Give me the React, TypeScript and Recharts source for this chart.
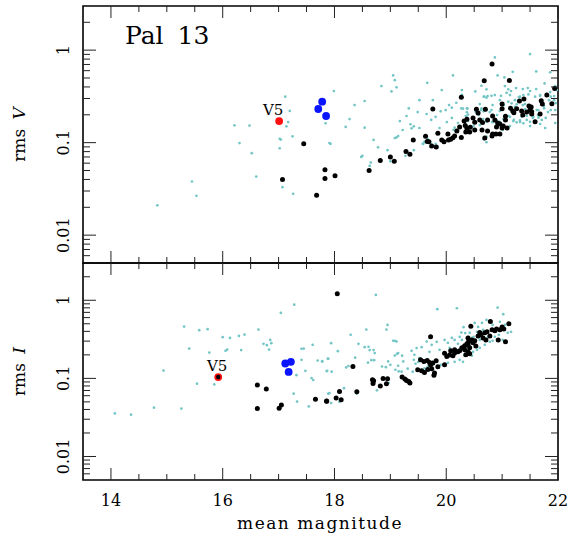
import React from 'react';
import { ScatterChart, Scatter, XAxis, YAxis, ReferenceArea } from 'recharts';

// Pal 13: rms V / rms I gegen mittlere Helligkeit

const FONT = '"DejaVu Serif", serif';
const CYAN = '#74c6c6';

const X_TICKS = [14, 14.5, 15, 15.5, 16, 16.5, 17, 17.5, 18, 18.5, 19, 19.5, 20, 20.5, 21, 21.5, 22];
const X_LABELS = [14, 16, 18, 20, 22];
const Y_TICKS = [
  0.006, 0.007, 0.008, 0.009, 0.01, 0.02, 0.03, 0.04, 0.05, 0.06, 0.07, 0.08, 0.09,
  0.1, 0.2, 0.3, 0.4, 0.5, 0.6, 0.7, 0.8, 0.9, 1, 2,
];
const Y_LABELS = [0.01, 0.1, 1];

// oberes Panel (V)
const topCyan = [
  [17.12, 0.314], [17.2, 0.22], [17.17, 0.167], [17.14, 0.15], [16.21, 0.154], [16.48, 0.153],
  [17.02, 0.11], [17.04, 0.108], [17.25, 0.117], [16.3, 0.099], [16.52, 0.077], [17.02, 0.087],
  [16.6, 0.043], [15.45, 0.038], [15.53, 0.0266], [17.07, 0.033], [17.26, 0.028], [14.83, 0.021],
  [17.84, 0.162], [17.91, 0.099], [17.99, 0.361], [17.93, 0.097], [18.2, 0.148], [18.54, 0.145],
  [18.84, 0.409], [19.05, 0.533], [19.11, 0.396], [19.02, 0.358], [18.78, 0.089], [18.5, 0.072],
  [18.48, 0.07], [18.65, 0.061], [18.63, 0.056], [19.0, 0.063], [19.14, 0.118], [19.11, 0.114],
  [19.29, 0.194], [19.33, 0.235], [19.36, 0.158], [19.38, 0.143], [19.42, 0.15], [19.27, 0.072],
  [19.42, 0.083], [19.66, 0.443], [19.76, 0.288], [19.65, 0.204], [19.73, 0.176], [19.81, 0.19],
  [19.9, 0.218], [19.92, 0.37], [19.99, 0.225], [20.05, 0.255], [20.12, 0.533], [20.1, 0.239],
  [20.18, 0.27], [20.28, 0.37], [20.28, 0.329], [20.27, 0.235], [20.38, 0.233], [20.15, 0.145],
  [20.13, 0.137], [19.67, 0.109], [19.71, 0.102], [19.81, 0.097], [19.85, 0.09], [19.58, 0.097],
  [20.36, 0.191], [20.39, 0.201], [20.52, 0.358], [20.63, 0.412], [20.68, 0.314], [20.72, 0.377],
  [20.87, 0.834], [20.92, 0.533], [21.04, 0.507], [21.19, 0.583], [21.05, 0.409], [21.11, 0.377],
  [21.25, 0.389], [21.37, 0.379], [21.46, 0.389], [21.5, 0.361], [21.61, 0.379], [21.5, 0.906],
  [21.61, 0.589], [21.86, 0.575], [21.76, 0.437], [21.86, 0.352], [21.68, 0.327], [20.72, 0.116],
  [20.72, 0.101], [20.67, 0.109], [21.01, 0.137], [21.14, 0.151], [21.32, 0.167], [21.44, 0.176],
  [21.55, 0.185], [21.64, 0.199], [21.71, 0.176], [21.78, 0.185], [21.95, 0.225], [21.82, 0.214],
  [21.62, 0.225], [21.41, 0.261], [21.3, 0.311], [21.14, 0.327], [20.96, 0.288], [20.83, 0.255],
  [20.74, 0.319], [20.6, 0.261], [20.53, 0.214], [21.12, 0.194], [21.21, 0.176], [20.91, 0.199],
  [20.82, 0.167], [20.6, 0.155], [20.49, 0.151], [21.23, 0.288], [21.84, 0.288], [21.93, 0.319],
  [21.96, 0.268], [21.75, 0.249], [21.95, 0.409], [19.88, 0.144], [20.01, 0.167], [20.1, 0.185],
  [20.21, 0.163], [19.49, 0.214], [19.52, 0.144], [19.22, 0.137], [19.17, 0.171], [19.08, 0.112],
  [18.95, 0.083], [18.7, 0.107], [19.52, 0.288], [19.08, 0.474], [18.36, 0.255], [18.54, 0.282],
  [18.27, 0.18], [20.96, 0.22], [20.78, 0.214], [21.5, 0.151], [21.77, 0.144], [21.68, 0.159],
  [21.95, 0.163], [21.98, 0.37],
  [20.67, 0.314], [20.72, 0.306], [20.81, 0.321], [20.87, 0.327], [20.98, 0.321], [21.08, 0.346],
  [21.16, 0.361], [21.32, 0.314], [21.38, 0.327], [21.47, 0.332], [21.59, 0.314], [21.68, 0.321],
  [21.8, 0.332], [21.87, 0.314], [21.93, 0.288], [21.17, 0.266], [21.26, 0.26], [21.37, 0.255],
  [21.41, 0.231], [21.65, 0.225], [21.75, 0.235], [21.87, 0.225], [21.03, 0.255], [21.11, 0.277],
  [21.23, 0.244], [21.35, 0.19], [21.44, 0.195], [21.56, 0.19], [21.65, 0.186], [21.32, 0.174],
  [21.2, 0.171], [21.26, 0.166], [21.38, 0.162], [21.5, 0.168], [21.14, 0.19], [21.02, 0.18],
  [20.96, 0.168], [20.9, 0.174], [20.84, 0.167], [20.72, 0.168], [20.66, 0.18], [20.63, 0.235],
  [20.72, 0.225], [20.81, 0.225], [20.37, 0.235], [20.3, 0.233], [20.37, 0.213], [20.35, 0.194],
  [20.39, 0.171], [20.37, 0.149], [20.55, 0.216], [20.58, 0.199], [20.62, 0.225], [20.67, 0.218],
  [19.59, 0.097], [19.61, 0.102], [19.73, 0.096], [19.72, 0.09],
];
const topBlack = [
  [17.45, 0.097], [17.83, 0.051], [17.83, 0.041], [17.07, 0.04], [17.68, 0.027], [18.01, 0.044],
  [18.62, 0.05], [18.82, 0.064], [19.0, 0.07], [19.07, 0.063], [19.28, 0.08], [19.35, 0.075],
  [19.41, 0.107], [19.63, 0.117], [19.66, 0.103], [19.69, 0.102], [19.74, 0.092], [19.82, 0.09],
  [19.85, 0.126], [19.76, 0.231], [19.92, 0.107], [19.96, 0.102], [20.03, 0.124], [20.04, 0.107],
  [20.08, 0.109], [20.12, 0.113], [20.15, 0.118], [20.27, 0.114], [20.27, 0.309], [20.34, 0.153],
  [20.37, 0.179], [20.37, 0.143], [20.43, 0.147], [20.51, 0.166], [20.54, 0.229], [20.6, 0.176],
  [20.65, 0.165], [20.7, 0.229], [20.68, 0.467], [20.82, 0.706], [20.74, 0.176], [20.83, 0.194],
  [20.64, 0.137], [20.74, 0.134], [20.83, 0.124], [20.89, 0.124], [20.96, 0.124], [20.9, 0.148],
  [21.0, 0.144], [21.09, 0.144], [20.35, 0.13], [20.42, 0.13], [20.24, 0.148], [21.0, 0.261],
  [21.0, 0.233], [21.06, 0.193], [20.96, 0.159], [21.02, 0.151], [21.06, 0.176], [21.13, 0.471],
  [21.15, 0.235], [21.19, 0.22], [21.21, 0.21], [21.26, 0.232], [21.31, 0.282], [21.39, 0.296],
  [21.35, 0.22], [21.37, 0.199], [21.48, 0.249], [21.5, 0.225], [21.53, 0.216], [21.52, 0.243],
  [21.53, 0.204], [21.59, 0.168], [21.7, 0.284], [21.72, 0.261], [21.8, 0.327], [21.89, 0.263],
  [21.94, 0.386], [20.48, 0.185], [20.57, 0.209], [20.32, 0.171], [20.19, 0.134], [20.51, 0.137],
  [20.82, 0.118], [20.69, 0.112], [20.92, 0.163], [20.87, 0.176], [21.68, 0.204], [21.44, 0.214],
];
const topBlue = [[17.78, 0.277], [17.71, 0.231], [17.85, 0.194]];
const topRed = [[17.01, 0.171]];

// unteres Panel (I)
const botCyan = [
  [14.07, 0.0356], [14.36, 0.0343], [14.77, 0.0422], [15.26, 0.041], [14.94, 0.126], [15.31, 0.46],
  [15.4, 0.241], [15.58, 0.414], [15.73, 0.426], [15.76, 0.214], [15.54, 0.0855], [15.85, 0.0837],
  [16.0, 0.337], [16.13, 0.33], [16.05, 0.225], [16.08, 0.234], [16.29, 0.35], [16.39, 0.364],
  [16.33, 0.23], [16.64, 0.421], [17.04, 0.689], [17.28, 0.879], [16.73, 0.277], [16.79, 0.266],
  [16.85, 0.311], [16.87, 0.282], [16.83, 0.234], [17.41, 0.239], [17.45, 0.241], [17.61, 0.269],
  [17.41, 0.173], [17.48, 0.125], [17.32, 0.11], [17.7, 0.169], [17.78, 0.165], [17.89, 0.178],
  [17.86, 0.124], [17.59, 0.101], [17.62, 0.0953], [17.27, 0.0637], [17.33, 0.0504], [17.54, 0.0438],
  [17.91, 0.065], [18.74, 1.17], [18.95, 0.484], [18.93, 0.421], [18.57, 0.421], [18.29, 0.361],
  [18.43, 0.277], [17.94, 0.282], [18.06, 0.223], [18.54, 0.251], [18.61, 0.254], [18.63, 0.23],
  [18.7, 0.23], [18.72, 0.211], [19.05, 0.303], [19.08, 0.303], [19.12, 0.206], [19.08, 0.196],
  [17.78, 0.166], [17.88, 0.179], [18.37, 0.184], [18.66, 0.171], [18.71, 0.171], [18.6, 0.159],
  [18.96, 0.165], [19.0, 0.149], [19.14, 0.145], [18.85, 0.142], [18.92, 0.139], [17.87, 0.125],
  [17.95, 0.122], [18.21, 0.138], [18.25, 0.144], [18.34, 0.146], [19.09, 0.129], [19.15, 0.123],
  [18.97, 0.0873], [18.17, 0.075], [18.76, 0.0703], [17.89, 0.0637], [18.4, 0.0637], [17.94, 0.0484],
  [18.09, 0.0499], [19.84, 0.768], [20.19, 0.79], [20.31, 0.452], [20.27, 0.386], [20.34, 0.38],
  [19.65, 0.296], [19.56, 0.251], [19.47, 0.244], [19.38, 0.225], [19.11, 0.296], [19.14, 0.211],
  [19.21, 0.195], [19.23, 0.165], [19.2, 0.122], [19.43, 0.2], [19.42, 0.173], [19.45, 0.154],
  [19.52, 0.182], [19.5, 0.162], [19.31, 0.133], [19.4, 0.122], [19.51, 0.129], [19.61, 0.134],
  [19.67, 0.141], [19.76, 0.15], [19.9, 0.149], [20.03, 0.158], [20.15, 0.163], [20.24, 0.173],
  [20.3, 0.163], [19.74, 0.269], [19.83, 0.294], [19.97, 0.311], [20.03, 0.285], [20.1, 0.33],
  [20.15, 0.311], [20.21, 0.277], [20.24, 0.34], [20.28, 0.311], [19.88, 0.232], [19.7, 0.219],
  [20.06, 0.246], [20.92, 0.805], [21.02, 0.663], [20.72, 0.56], [20.64, 0.513], [20.51, 0.513],
  [20.46, 0.456], [20.42, 0.383], [20.39, 0.311], [20.78, 0.545], [20.96, 0.529], [21.05, 0.484],
  [21.1, 0.383], [21.16, 0.394], [20.57, 0.456], [20.55, 0.394], [20.49, 0.34], [20.46, 0.33],
  [20.4, 0.34], [20.53, 0.311], [20.6, 0.311], [20.74, 0.33], [20.87, 0.34], [20.83, 0.303],
  [20.78, 0.294], [20.69, 0.269], [20.6, 0.246], [20.55, 0.232], [20.48, 0.219], [20.46, 0.195],
  [21.01, 0.311], [20.94, 0.361], [20.83, 0.484], [20.66, 0.418], [20.39, 0.246], [20.33, 0.195],
];
const botBlack = [
  [16.62, 0.082], [16.78, 0.073], [16.62, 0.041], [17.01, 0.0415], [17.05, 0.0457], [17.66, 0.054],
  [17.86, 0.0515], [18.05, 1.21], [18.33, 0.142], [18.4, 0.0676], [18.09, 0.068], [17.86, 0.051],
  [18.03, 0.056], [18.12, 0.0534], [18.68, 0.096], [18.7, 0.093], [18.69, 0.086], [18.87, 0.1],
  [18.95, 0.099], [18.93, 0.0855], [18.82, 0.08], [19.21, 0.104], [19.26, 0.098], [19.29, 0.094],
  [19.35, 0.087], [19.33, 0.091], [19.54, 0.173], [19.6, 0.165], [19.66, 0.169], [19.7, 0.16],
  [19.72, 0.148], [19.76, 0.157], [19.82, 0.168], [19.72, 0.34], [19.79, 0.117], [19.78, 0.11],
  [19.49, 0.129], [19.56, 0.125], [19.61, 0.119], [19.67, 0.13], [19.74, 0.133], [19.85, 0.141],
  [19.97, 0.149], [19.97, 0.21], [20.06, 0.199], [20.01, 0.19], [20.12, 0.195], [20.15, 0.212],
  [20.21, 0.219], [20.08, 0.225], [20.24, 0.225], [20.15, 0.232], [20.28, 0.246], [20.33, 0.261],
  [20.37, 0.277], [20.4, 0.294], [20.42, 0.246], [20.48, 0.285], [20.44, 0.466], [20.33, 0.232],
  [20.39, 0.219], [20.39, 0.269], [20.51, 0.303], [20.57, 0.35], [20.6, 0.386], [20.62, 0.361],
  [20.66, 0.33], [20.69, 0.383], [20.73, 0.394], [20.71, 0.311], [20.78, 0.35], [20.79, 0.533],
  [20.82, 0.418], [20.87, 0.406], [20.9, 0.43], [20.93, 0.311], [20.96, 0.418], [21.0, 0.456],
  [21.03, 0.43], [21.06, 0.294], [21.12, 0.499], [20.46, 0.311], [20.53, 0.26], [20.39, 0.33],
  [20.35, 0.2], [20.42, 0.206],
];
const botBlue = [[17.12, 0.155], [17.22, 0.163], [17.18, 0.121]];
const botRed = [[15.92, 0.104]];

const pts = (arr: number[][]) => arr.map(([x, y]) => ({ x, y }));

const PLOT_W = 475;

function dot(r: number, fill: string) {
  return (p: any) => <circle cx={p.cx} cy={p.cy} r={r} fill={fill} />;
}

interface PanelProps {
  cyan: number[][];
  black: number[][];
  blue: number[][];
  red: number[][];
  height: number;
  marginTop: number;
  xHeight: number;
  plotH: number;
  showX: boolean;
  ringed: boolean;
  labelDx: number;
}

function Panel({ cyan, black, blue, red, height, marginTop, xHeight, plotH, showX, ringed, labelDx }: PanelProps) {
  const xTick = (p: any) => {
    const v = p.payload.value;
    const major = X_LABELS.includes(v);
    const len = major ? 12 : 6;
    return (
      <g>
        <line x1={p.x} x2={p.x} y1={p.y} y2={p.y - len} stroke="#222" strokeWidth={1} />
        <line x1={p.x} x2={p.x} y1={p.y - plotH} y2={p.y - plotH + len} stroke="#222" strokeWidth={1} />
        {showX && major && (
          <text x={p.x} y={p.y + 26} textAnchor="middle" fontSize={16} fontFamily={FONT} fill="#000">
            {v}
          </text>
        )}
      </g>
    );
  };

  const yTick = (p: any) => {
    const v = p.payload.value;
    const major = Y_LABELS.includes(v);
    const len = major ? 13 : 7;
    const tx = p.x - 14;
    return (
      <g>
        <line x1={p.x} x2={p.x + len} y1={p.y} y2={p.y} stroke="#222" strokeWidth={1} />
        <line x1={p.x + PLOT_W} x2={p.x + PLOT_W - len} y1={p.y} y2={p.y} stroke="#222" strokeWidth={1} />
        {major && (
          <text
            x={tx}
            y={p.y}
            transform={`rotate(-90 ${tx} ${p.y})`}
            textAnchor="middle"
            fontSize={16}
            fontFamily={FONT}
            fill="#000"
          >
            {String(v)}
          </text>
        )}
      </g>
    );
  };

  const redShape = (p: any) => (
    <g>
      <circle cx={p.cx} cy={p.cy} r={3.9} fill="#ff1010" />
      {ringed && <circle cx={p.cx} cy={p.cy} r={2.2} fill="#000" />}
      <text x={p.cx + labelDx} y={p.cy - 6} textAnchor="middle" fontSize={15} fontFamily={FONT} fill="#000">
        V5
      </text>
    </g>
  );

  return (
    <ScatterChart width={570} height={height} margin={{ top: marginTop, right: 12, bottom: 0, left: 0 }}>
      <XAxis
        type="number"
        dataKey="x"
        domain={[13.5, 22]}
        allowDataOverflow
        ticks={X_TICKS}
        interval={0}
        tickSize={0}
        tickMargin={0}
        axisLine={false}
        tickLine={false}
        height={xHeight}
        tick={xTick}
      />
      <YAxis
        type="number"
        dataKey="y"
        scale="log"
        domain={[0.005, 3]}
        allowDataOverflow
        ticks={Y_TICKS}
        interval={0}
        tickSize={0}
        tickMargin={0}
        axisLine={false}
        tickLine={false}
        width={83}
        tick={yTick}
      />
      <ReferenceArea x1={13.5} x2={22} y1={0.005} y2={3} fill="none" stroke="#000" strokeWidth={1.6} />
      <Scatter data={pts(cyan)} isAnimationActive={false} shape={dot(1.35, CYAN)} />
      <Scatter data={pts(black)} isAnimationActive={false} shape={dot(2.5, '#000')} />
      <Scatter data={pts(blue)} isAnimationActive={false} shape={dot(3.9, '#0a14ff')} />
      <Scatter data={pts(red)} isAnimationActive={false} shape={redShape} />
    </ScatterChart>
  );
}

export default function App() {
  return (
    <div style={{ position: 'absolute', left: 0, top: 0, width: 570, height: 541, background: '#fff' }}>
      <div style={{ position: 'absolute', left: 0, top: 0 }}>
        <Panel
          cyan={topCyan}
          black={topBlack}
          blue={topBlue}
          red={topRed}
          height={270}
          marginTop={6}
          xHeight={7}
          plotH={257}
          showX={false}
          ringed={false}
          labelDx={-6}
        />
      </div>
      <div style={{ position: 'absolute', left: 0, top: 253 }}>
        <Panel
          cyan={botCyan}
          black={botBlack}
          blue={botBlue}
          red={botRed}
          height={288}
          marginTop={10}
          xHeight={61}
          plotH={217}
          showX={true}
          ringed={true}
          labelDx={-1}
        />
      </div>
      <svg
        width={570}
        height={541}
        style={{ position: 'absolute', left: 0, top: 0, pointerEvents: 'none' }}
        fontFamily={FONT}
      >
        <text x={125} y={44} fontSize={25} wordSpacing={6} fill="#000">
          Pal 13
        </text>
        <text x={25} y={134.5} transform="rotate(-90 25 134.5)" textAnchor="middle" fontSize={17} wordSpacing={4} fill="#000">
          rms <tspan fontStyle="italic">V</tspan>
        </text>
        <text x={25} y={371.5} transform="rotate(-90 25 371.5)" textAnchor="middle" fontSize={17} wordSpacing={4} fill="#000">
          rms <tspan fontStyle="italic">I</tspan>
        </text>
        <text x={320} y={529} textAnchor="middle" fontSize={17} letterSpacing={1.5} fill="#000">
          mean magnitude
        </text>
      </svg>
    </div>
  );
}
